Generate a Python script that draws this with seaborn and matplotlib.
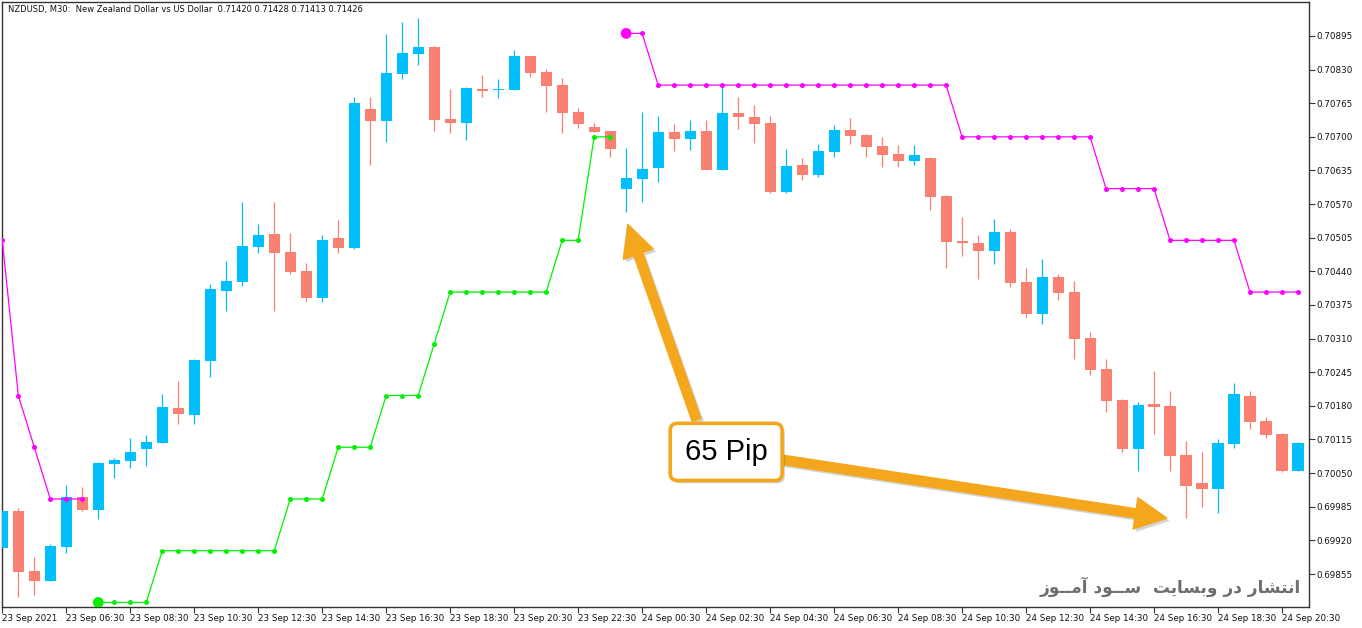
import matplotlib
matplotlib.use("Agg")
import matplotlib.pyplot as plt
import matplotlib.patheffects as pe
import seaborn as sns
import pandas as pd
import numpy as np

# ---------------- data ----------------
opens = [0.69906, 0.69977, 0.69861, 0.69842, 0.69908, 0.70003, 0.69979, 0.70068, 0.70074, 0.70097,
         0.70109, 0.70176, 0.70163, 0.70267, 0.70403, 0.70420, 0.70488, 0.70512, 0.70477, 0.70441,
         0.70389, 0.70505, 0.70486, 0.70754, 0.70731, 0.70822, 0.70861, 0.70874, 0.70735, 0.70727,
         0.70793, 0.70791, 0.70791, 0.70856, 0.70825, 0.70800, 0.70749, 0.70719, 0.70711, 0.70600,
         0.70619, 0.70640, 0.70709, 0.70696, 0.70711, 0.70636, 0.70746, 0.70738, 0.70727, 0.70593,
         0.70646, 0.70627, 0.70671, 0.70714, 0.70704, 0.70683, 0.70667, 0.70654, 0.70660, 0.70586,
         0.70499, 0.70495, 0.70480, 0.70516, 0.70420, 0.70358, 0.70430, 0.70401, 0.70312, 0.70252,
         0.70192, 0.70097, 0.70184, 0.70180, 0.70086, 0.70030, 0.70020, 0.70107, 0.70200, 0.70151,
         0.70126, 0.70055]
highs = [0.69979, 0.69983, 0.69887, 0.69913, 0.70027, 0.70024, 0.70071, 0.70079, 0.70117, 0.70124,
         0.70203, 0.70229, 0.70270, 0.70416, 0.70461, 0.70575, 0.70532, 0.70574, 0.70514, 0.70457,
         0.70510, 0.70540, 0.70777, 0.70777, 0.70898, 0.70922, 0.70930, 0.70875, 0.70793, 0.70796,
         0.70820, 0.70812, 0.70867, 0.70857, 0.70832, 0.70814, 0.70756, 0.70727, 0.70712, 0.70679,
         0.70749, 0.70741, 0.70725, 0.70733, 0.70733, 0.70800, 0.70778, 0.70762, 0.70741, 0.70677,
         0.70660, 0.70687, 0.70722, 0.70737, 0.70706, 0.70700, 0.70685, 0.70685, 0.70662, 0.70588,
         0.70546, 0.70511, 0.70542, 0.70521, 0.70447, 0.70463, 0.70434, 0.70422, 0.70323, 0.70271,
         0.70193, 0.70188, 0.70248, 0.70209, 0.70113, 0.70091, 0.70115, 0.70225, 0.70209, 0.70159,
         0.70127, 0.70111]
lows = [0.69904, 0.69811, 0.69814, 0.69842, 0.69896, 0.69977, 0.69962, 0.70041, 0.70060, 0.70064,
        0.70108, 0.70144, 0.70144, 0.70235, 0.70364, 0.70412, 0.70476, 0.70364, 0.70435, 0.70383,
        0.70381, 0.70476, 0.70483, 0.70646, 0.70691, 0.70811, 0.70839, 0.70712, 0.70708, 0.70693,
        0.70778, 0.70776, 0.70790, 0.70816, 0.70749, 0.70708, 0.70718, 0.70709, 0.70662, 0.70555,
        0.70575, 0.70613, 0.70673, 0.70675, 0.70635, 0.70635, 0.70716, 0.70689, 0.70591, 0.70591,
        0.70617, 0.70623, 0.70662, 0.70687, 0.70662, 0.70642, 0.70642, 0.70646, 0.70559, 0.70447,
        0.70470, 0.70426, 0.70455, 0.70410, 0.70352, 0.70339, 0.70385, 0.70271, 0.70240, 0.70169,
        0.70090, 0.70055, 0.70126, 0.70055, 0.69963, 0.69985, 0.69972, 0.70099, 0.70136, 0.70117,
        0.70053, 0.70054]
closes = [0.69977, 0.69859, 0.69842, 0.69909, 0.70003, 0.69979, 0.70070, 0.70075, 0.70091, 0.70110,
          0.70178, 0.70165, 0.70269, 0.70406, 0.70421, 0.70489, 0.70510, 0.70476, 0.70439, 0.70389,
          0.70501, 0.70486, 0.70766, 0.70731, 0.70824, 0.70862, 0.70874, 0.70733, 0.70727, 0.70795,
          0.70789, 0.70793, 0.70856, 0.70824, 0.70799, 0.70747, 0.70724, 0.70710, 0.70677, 0.70620,
          0.70638, 0.70709, 0.70696, 0.70711, 0.70636, 0.70746, 0.70739, 0.70724, 0.70593, 0.70644,
          0.70627, 0.70673, 0.70714, 0.70702, 0.70681, 0.70664, 0.70654, 0.70664, 0.70584, 0.70497,
          0.70494, 0.70480, 0.70516, 0.70418, 0.70358, 0.70430, 0.70399, 0.70310, 0.70250, 0.70190,
          0.70097, 0.70182, 0.70178, 0.70084, 0.70026, 0.70020, 0.70109, 0.70202, 0.70149, 0.70124,
          0.70055, 0.70109]

# trailing-stop indicator segments (bar index, level)
resist1_idx = [0, 1, 2, 3, 4, 5]
resist1_val = [0.70500, 0.70200, 0.70100, 0.70000, 0.70000, 0.70000]
support_idx = list(range(6, 39))
support_val = [0.69800, 0.69800, 0.69800, 0.69800,
               0.69900, 0.69900, 0.69900, 0.69900, 0.69900, 0.69900, 0.69900, 0.69900,
               0.70000, 0.70000, 0.70000,
               0.70100, 0.70100, 0.70100,
               0.70200, 0.70200, 0.70200,
               0.70300,
               0.70400, 0.70400, 0.70400, 0.70400, 0.70400, 0.70400, 0.70400,
               0.70500, 0.70500,
               0.70700, 0.70700]
resist2_idx = list(range(39, 82))
resist2_val = [0.70900, 0.70900,
               0.70800, 0.70800, 0.70800, 0.70800, 0.70800, 0.70800, 0.70800, 0.70800, 0.70800, 0.70800,
               0.70800, 0.70800, 0.70800, 0.70800, 0.70800, 0.70800, 0.70800, 0.70800, 0.70800,
               0.70700, 0.70700, 0.70700, 0.70700, 0.70700, 0.70700, 0.70700, 0.70700, 0.70700,
               0.70600, 0.70600, 0.70600, 0.70600,
               0.70500, 0.70500, 0.70500, 0.70500, 0.70500,
               0.70400, 0.70400, 0.70400, 0.70400]

xtick_labels = ["23 Sep 2021", "23 Sep 06:30", "23 Sep 08:30", "23 Sep 10:30", "23 Sep 12:30",
                "23 Sep 14:30", "23 Sep 16:30", "23 Sep 18:30", "23 Sep 20:30", "23 Sep 22:30",
                "24 Sep 00:30", "24 Sep 02:30", "24 Sep 04:30", "24 Sep 06:30", "24 Sep 08:30",
                "24 Sep 10:30", "24 Sep 12:30", "24 Sep 14:30", "24 Sep 16:30", "24 Sep 18:30",
                "24 Sep 20:30"]
ytick_values = [0.69855, 0.69920, 0.69985, 0.70050, 0.70115, 0.70180, 0.70245, 0.70310, 0.70375,
                0.70440, 0.70505, 0.70570, 0.70635, 0.70700, 0.70765, 0.70830, 0.70895]

title_text = "NZDUSD, M30:  New Zealand Dollar vs US Dollar  0.71420 0.71428 0.71413 0.71426"
note_text = "65 Pip"
watermark_text = "انتشار در وبسایت  ســود آمــوز"

# ---------------- minimal Arabic-script shaping (matplotlib has no RTL shaping) ----------------
AR_FORMS = {
    '\u0627': ('\uFE8D', '\uFE8E', None, None),
    '\u0622': ('\uFE81', '\uFE82', None, None),
    '\u0628': ('\uFE8F', '\uFE90', '\uFE91', '\uFE92'),
    '\u062A': ('\uFE95', '\uFE96', '\uFE97', '\uFE98'),
    '\u062F': ('\uFEA9', '\uFEAA', None, None),
    '\u0631': ('\uFEAD', '\uFEAE', None, None),
    '\u0632': ('\uFEAF', '\uFEB0', None, None),
    '\u0633': ('\uFEB1', '\uFEB2', '\uFEB3', '\uFEB4'),
    '\u0634': ('\uFEB5', '\uFEB6', '\uFEB7', '\uFEB8'),
    '\u0645': ('\uFEE1', '\uFEE2', '\uFEE3', '\uFEE4'),
    '\u0646': ('\uFEE5', '\uFEE6', '\uFEE7', '\uFEE8'),
    '\u0648': ('\uFEED', '\uFEEE', None, None),
    '\u06CC': ('\uFBFC', '\uFBFD', '\uFEF3', '\uFEF4'),
    '\u0640': ('\u0640', '\u0640', '\u0640', '\u0640'),
}


def shape_rtl(s):
    def dual(c):
        return c in AR_FORMS and AR_FORMS[c][2] is not None
    out = []
    for k, c in enumerate(s):
        if c not in AR_FORMS:
            out.append(c)
            continue
        prev = s[k - 1] if k > 0 else ''
        nxt = s[k + 1] if k + 1 < len(s) else ''
        jp = dual(prev)
        jn = dual(c) and (nxt in AR_FORMS)
        iso, fin, ini, med = AR_FORMS[c]
        if jp and jn:
            out.append(med)
        elif jp:
            out.append(fin)
        elif jn:
            out.append(ini)
        else:
            out.append(iso)
    return ''.join(reversed(out))


# ---------------- plotting ----------------
sns.set_theme(style="white")
plt.rcParams['font.family'] = ['DejaVu Sans']

BULL = "#00BFFF"
BEAR = "#FA8072"
ORANGE = "#F4A71D"

W, H = 1362, 628
fig = plt.figure(figsize=(W / 100, H / 100), dpi=100)
fig.patch.set_facecolor("white")
L, R, T, B = 2.3, 1308.7, 2.3, 606.7
ax = fig.add_axes([L / W, 1 - B / H, (R - L) / W, (B - T) / H])
ax.set_facecolor("white")

df = pd.DataFrame({"o": opens, "h": highs, "l": lows, "c": closes})
df["i"] = np.arange(len(df))
df["bull"] = df["c"] >= df["o"]
df["color"] = np.where(df["bull"], BULL, BEAR)

# wicks
ax.vlines(df["i"], df["l"], df["h"], colors=df["color"], linewidth=0.9, zorder=2)
# bodies
body_h = (df["c"] - df["o"]).abs().clip(lower=0.000012)
ax.bar(df["i"], body_h, bottom=df[["o", "c"]].min(axis=1), width=0.69,
       color=df["color"], linewidth=0, zorder=3)

# indicator lines with dots
for idx, val, col in [(resist1_idx, resist1_val, "#FF00FF"),
                      (support_idx, support_val, "#00F000"),
                      (resist2_idx, resist2_val, "#FF00FF")]:
    seg = pd.DataFrame({"i": idx, "v": val})
    sns.lineplot(data=seg, x="i", y="v", ax=ax, color=col, linewidth=0.9,
                 marker="o", markersize=3.6, markeredgewidth=0, zorder=4)
# start markers of new segments
starts = pd.DataFrame({"i": [support_idx[0], resist2_idx[0]],
                       "v": [support_val[0], resist2_val[0]],
                       "c": ["#00F000", "#FF00FF"]})
sns.scatterplot(data=starts, x="i", y="v", ax=ax, hue="c", palette={"#00F000": "#00F000", "#FF00FF": "#FF00FF"},
                s=60, linewidth=0, legend=False, zorder=5)

ax.set_xlim(0.02, 81.67)
ax.set_ylim(0.697918, 0.709601)

# axes styling
for sp in ax.spines.values():
    sp.set_color("#333333")
    sp.set_linewidth(1.0)
    sp.set_visible(True)
ax.set_xlabel("")
ax.set_ylabel("")
ax.set_xticks(list(range(0, 81, 4)))
ax.set_xticklabels(xtick_labels)
ax.yaxis.tick_right()
ax.set_yticks(ytick_values)
ax.set_yticklabels([f"{v:.5f}" for v in ytick_values])
ax.tick_params(axis="x", direction="out", length=4, width=0.8, color="#333333",
               pad=1.5, labelsize=6.3, labelcolor="#111111", bottom=True)
ax.tick_params(axis="y", direction="out", length=4, width=0.8, color="#333333",
               pad=1.5, labelsize=6.3, labelcolor="#111111", right=True, left=False)
plt.setp(ax.get_xticklabels(), ha="left")

# header text
ax.text(5.5 / (R - L), 1 - 7 / (B - T), title_text, transform=ax.transAxes,
        ha="left", va="center", fontsize=6.0, color="#111111")

# arrows
shadow = [pe.SimplePatchShadow(offset=(2, -2), alpha=0.25, shadow_rgbFace="#555555"), pe.Normal()]
arrow_style = "simple,head_length=0.95,head_width=0.95,tail_width=0.28"
ax.annotate("", xy=(39.1, 0.70531), xytext=(43.4, 0.70153),
            arrowprops=dict(arrowstyle=arrow_style, color=ORANGE, mutation_scale=24,
                            shrinkA=0, shrinkB=0, path_effects=shadow), zorder=6)
ax.annotate("", xy=(72.8, 0.69963), xytext=(48.5, 0.70077),
            arrowprops=dict(arrowstyle=arrow_style, color=ORANGE, mutation_scale=24,
                            shrinkA=0, shrinkB=0, path_effects=shadow), zorder=6)

# callout box
ax.text(45.25, 0.70091, note_text, ha="center", va="center", fontsize=21,
        family=["Liberation Sans", "DejaVu Sans"], color="black", zorder=8,
        bbox=dict(boxstyle="round,pad=0.5,rounding_size=0.25", facecolor="white",
                  edgecolor=ORANGE, linewidth=2.6,
                  path_effects=[pe.SimplePatchShadow(offset=(2, -2), alpha=0.25), pe.Normal()]))

# watermark
ax.text((1300.5 - L) / (R - L), (B - 593) / (B - T), shape_rtl(watermark_text),
        transform=ax.transAxes, ha="right", va="baseline", fontsize=12.2, fontweight="bold",
        family=["DejaVu Sans"], color="#6E6E6E", zorder=7)

fig.savefig("out.png", dpi=100, facecolor="white")
